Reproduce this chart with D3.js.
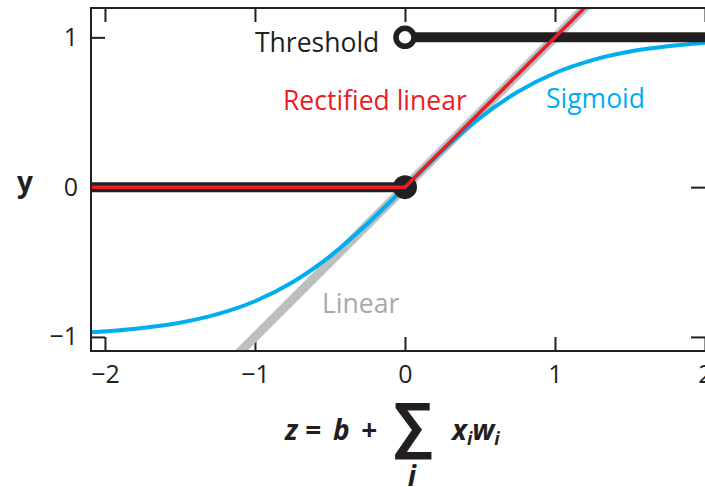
<!DOCTYPE html>
<html>
<head>
<meta charset="utf-8">
<script src="https://cdn.jsdelivr.net/npm/d3@7"></script>
<style>
  body { margin: 0; background: #fff; }
  text { font-family: "Open Sans", "Noto Sans", sans-serif; }
  .axis text { font-size: 25px; fill: #231f20; }
  .axis line { stroke: #231f20; stroke-width: 2px; }
  .axis path { display: none; }
</style>
</head>
<body>
<script>
//tick values for both axes
var xTicks = [-2, -1, 0, 1, 2];
var yTicks = [-1, 0, 1];
//sigmoid values
var sigZ = [-2.1, -1.75, -1.5, -1.25, -1, -0.75, -0.5, -0.25, 0, 0.25, 0.5, 0.75, 1, 1.25, 1.5, 1.75, 2];
var sigY = [-0.97, -0.94, -0.905, -0.848, -0.762, -0.635, -0.462, -0.245, 0, 0.245, 0.462, 0.635, 0.762, 0.848, 0.905, 0.94, 0.964];
//linear line endpoints
var linZ = [-1.3, 1.4];
var linY = [-1.3, 1.4];
//rectified linear
var reluZ = [-2.1, 0, 1.4];
var reluY = [0, 0, 1.4];
//threshold: two pieces
var thrLowZ = [-2.1, 0];
var thrLowY = [0, 0];
var thrHighZ = [0, 2.1];
var thrHighY = [1, 1];

window.onload = function(){
  var svg = d3.select('body')
    .append('svg')
    .attr('width', 705)
    .attr('height', 487);

  var left = 91, right = 705, top = 8, bottom = 351;

  var x = d3.scaleLinear()
    .domain([-2.093, 2])
    .range([left, right]);
  var y = d3.scaleLinear()
    .domain([-1.094, 1.196])
    .range([bottom, top]);

  svg.append("clipPath")
    .attr("id", "plot")
    .append("rect")
    .attr("x", left).attr("y", top)
    .attr("width", right - left).attr("height", bottom - top);

  var fmt = function(d){ return d < 0 ? "\u2212" + Math.abs(d) : String(d); };

  //axes with inward ticks
  svg.append("g").attr("class", "axis")
    .attr("transform", "translate(0," + bottom + ")")
    .call(d3.axisBottom(x).tickValues(xTicks).tickSizeInner(-14).tickSizeOuter(0).tickPadding(14).tickFormat(fmt));
  svg.append("g").attr("class", "axis")
    .attr("transform", "translate(0," + top + ")")
    .call(d3.axisTop(x).tickValues(xTicks).tickSizeInner(-14).tickSizeOuter(0).tickFormat(""));
  svg.append("g").attr("class", "axis")
    .attr("transform", "translate(" + left + ",0)")
    .call(d3.axisLeft(y).tickValues(yTicks).tickSizeInner(-14).tickSizeOuter(0).tickPadding(13).tickFormat(fmt));
  svg.append("g").attr("class", "axis")
    .attr("transform", "translate(" + right + ",0)")
    .call(d3.axisRight(y).tickValues(yTicks).tickSizeInner(-14).tickSizeOuter(0).tickFormat(""));

  var line = d3.line()
    .x(function(d){ return x(d[0]); })
    .y(function(d){ return y(d[1]); });
  var zip = function(a, b){ return a.map(function(v, i){ return [v, b[i]]; }); };

  var plot = svg.append("g").attr("clip-path", "url(#plot)");

  //linear (grey, wide)
  plot.append("path")
    .datum(zip(linZ, linY))
    .attr("d", line)
    .attr("fill", "none")
    .attr("stroke", "#bcbec0")
    .attr("stroke-width", 9);

  //sigmoid
  plot.append("path")
    .datum(zip(sigZ, sigY))
    .attr("d", line.curve(d3.curveMonotoneX))
    .attr("fill", "none")
    .attr("stroke", "#00aeef")
    .attr("stroke-width", 4);
  line.curve(d3.curveLinear);

  //threshold
  [zip(thrLowZ, thrLowY), zip(thrHighZ, thrHighY)].forEach(function(seg){
    plot.append("path")
      .datum(seg)
      .attr("d", line)
      .attr("fill", "none")
      .attr("stroke", "#231f20")
      .attr("stroke-width", 10);
  });
  plot.append("circle")
    .attr("cx", x(0)).attr("cy", y(0)).attr("r", 12)
    .attr("fill", "#231f20");
  plot.append("circle")
    .attr("cx", x(0)).attr("cy", y(1)).attr("r", 9)
    .attr("fill", "#fff")
    .attr("stroke", "#231f20")
    .attr("stroke-width", 5.5);

  //rectified linear
  plot.append("path")
    .datum(zip(reluZ, reluY))
    .attr("d", line)
    .attr("fill", "none")
    .attr("stroke", "#ed1c24")
    .attr("stroke-width", 3.5);

  //frame
  svg.append("rect")
    .attr("x", left).attr("y", top)
    .attr("width", right - left + 2).attr("height", bottom - top)
    .attr("fill", "none")
    .attr("stroke", "#231f20")
    .attr("stroke-width", 2);

  //series labels
  var labels = [
    {t: "Threshold", x: 255, y: 52, c: "#231f20"},
    {t: "Rectified linear", x: 283, y: 110, c: "#ed1c24"},
    {t: "Sigmoid", x: 546, y: 108, c: "#00aeef"},
    {t: "Linear", x: 322, y: 313, c: "#a7a9ac"}
  ];
  svg.selectAll(".lab")
    .data(labels)
    .enter()
    .append("text")
    .attr("class", "lab")
    .attr("x", function(d){ return d.x; })
    .attr("y", function(d){ return d.y; })
    .style("font-size", "26.5px")
    .style("fill", function(d){ return d.c; })
    .text(function(d){ return d.t; });

  //y axis title
  svg.append("text")
    .attr("x", 25).attr("y", 192)
    .attr("text-anchor", "middle")
    .style("font-size", "28px")
    .style("font-weight", "bold")
    .style("fill", "#231f20")
    .text("y");

  //x axis title: z = b + sum_i x_i w_i
  var f = svg.append("g")
    .style("font-weight", "bold")
    .style("font-style", "italic")
    .style("font-size", "28px")
    .style("fill", "#231f20");
  [["z", 285], ["=", 305], ["b", 333], ["+", 361]].forEach(function(p){
    f.append("text").attr("x", p[1]).attr("y", 440).text(p[0]);
  });
  f.append("text")
    .attr("x", 413).attr("y", 446)
    .attr("text-anchor", "middle")
    .style("font-size", "60px")
    .style("font-style", "normal")
    .text("\u2211");
  f.append("text")
    .attr("x", 412).attr("y", 486)
    .attr("text-anchor", "middle")
    .text("i");
  var xw = f.append("text")
    .attr("x", 452).attr("y", 440);
  xw.append("tspan").text("x");
  xw.append("tspan").attr("dy", 5).style("font-size", "18px").text("i");
  xw.append("tspan").attr("dy", -5).text("w");
  xw.append("tspan").attr("dy", 5).style("font-size", "18px").text("i");
};
</script>
</body>
</html>
